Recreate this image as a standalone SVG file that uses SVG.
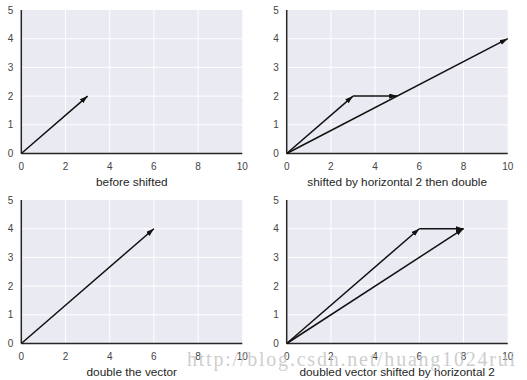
<svg xmlns="http://www.w3.org/2000/svg" width="527" height="380" viewBox="0 0 527 380">
<style>
.bg{fill:#eaeaf2}
.grid{stroke:#ffffff;stroke-width:1}
.axis{stroke:#262626;stroke-width:1.5}
.tick{font-family:"Liberation Sans",Arial,sans-serif;font-size:10px;fill:#444444}
.xl{font-family:"Liberation Sans",Arial,sans-serif;font-size:11.8px;fill:#262626;text-anchor:middle}
.vec{stroke:#111;stroke-width:1.5;fill:none;marker-end:url(#ah)}
.wm{font-family:"Liberation Serif","DejaVu Serif",serif;font-size:20px;fill:#c4c4c4;fill-opacity:0.85}
</style>
<defs>
<marker id="ah" markerUnits="userSpaceOnUse" markerWidth="10" markerHeight="8" refX="8" refY="2.6" orient="auto">
<path d="M0,0 L8,2.6 L0,5.2 z" fill="#111"/>
</marker>
<g id="frame">
<rect class="bg" x="0" y="0" width="221" height="143.5"/>
<g class="grid">
<line x1="44.2" y1="0" x2="44.2" y2="143.5"/>
<line x1="88.4" y1="0" x2="88.4" y2="143.5"/>
<line x1="132.6" y1="0" x2="132.6" y2="143.5"/>
<line x1="176.8" y1="0" x2="176.8" y2="143.5"/>
<line x1="0" y1="28.7" x2="221" y2="28.7"/>
<line x1="0" y1="57.4" x2="221" y2="57.4"/>
<line x1="0" y1="86.1" x2="221" y2="86.1"/>
<line x1="0" y1="114.8" x2="221" y2="114.8"/>
</g>
<line class="axis" x1="0" y1="0" x2="0" y2="143.5"/>
<line class="axis" x1="0" y1="143.5" x2="221" y2="143.5"/>
<g class="tick" text-anchor="middle">
<text x="0" y="159.5">0</text>
<text x="44.2" y="159.5">2</text>
<text x="88.4" y="159.5">4</text>
<text x="132.6" y="159.5">6</text>
<text x="176.8" y="159.5">8</text>
<text x="221" y="159.5">10</text>
</g>
<g class="tick" text-anchor="end">
<text x="-8" y="147">0</text>
<text x="-8" y="118.3">1</text>
<text x="-8" y="89.6">2</text>
<text x="-8" y="60.9">3</text>
<text x="-8" y="32.2">4</text>
<text x="-8" y="3.5">5</text>
</g>
</g>
</defs>

<g id="panel1" transform="translate(21.3,10)">
<use href="#frame"/>
<text class="xl" x="110.5" y="175.5">before shifted</text>
<g id="p1-vectors">
<path class="vec" d="M0,143.5 L66.3,86.1"/>
</g>
</g>

<g id="panel2" transform="translate(286.7,10)">
<use href="#frame"/>
<text class="xl" x="110.5" y="175.5">shifted by horizontal 2 then double</text>
<g id="p2-vectors">
<path class="vec" d="M0,143.5 L66.3,86.1"/>
<path class="vec" d="M66.3,86.1 L110.5,86.1"/>
<path class="vec" d="M0,143.5 L221,28.7"/>
</g>
</g>

<g id="panel3" transform="translate(21.3,200)">
<use href="#frame"/>
<text class="xl" x="110.5" y="175.5">double the vector</text>
<g id="p3-vectors">
<path class="vec" d="M0,143.5 L132.6,28.7"/>
</g>
</g>

<g id="panel4" transform="translate(286.7,200)">
<use href="#frame"/>
<text class="xl" x="110.5" y="175.5">doubled vector shifted by horizontal 2</text>
<g id="p4-vectors">
<path class="vec" d="M0,143.5 L132.6,28.7"/>
<path class="vec" d="M132.6,28.7 L176.8,28.7"/>
<path class="vec" d="M0,143.5 L176.8,28.7"/>
</g>
</g>

<text class="wm" x="187" y="366" textLength="328" lengthAdjust="spacing">http://blog.csdn.net/huang1024rui</text>
</svg>
